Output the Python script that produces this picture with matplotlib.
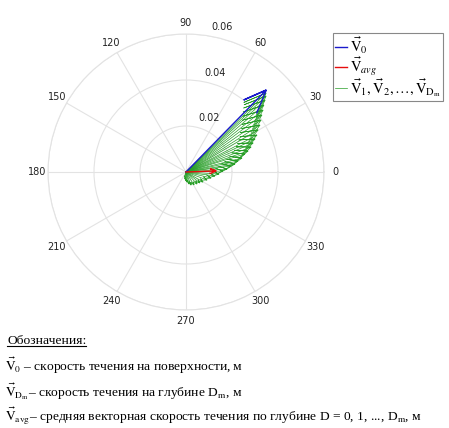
import matplotlib
matplotlib.use("Agg")
import matplotlib.pyplot as plt
from matplotlib.lines import Line2D
import numpy as np

plt.rcParams['mathtext.fontset'] = 'stix'

# surface vector, depth-averaged vector (magnitude, angle in degrees)
v0_mag, v0_ang = 0.0499, 45.6
vavg_mag, vavg_ang = 0.0131, 2.0

# vectors at depths 1..Dm
green_mag = [0.0489, 0.0480, 0.0465, 0.0447, 0.0430, 0.0413, 0.0397, 0.0381,
             0.0363, 0.0348, 0.0333, 0.0318, 0.0303, 0.0285, 0.0268, 0.0251,
             0.0231, 0.0216, 0.0197, 0.0179, 0.0161, 0.0144, 0.0127, 0.0112,
             0.0098, 0.0086, 0.0077, 0.0071, 0.0066, 0.0061, 0.0054, 0.0044,
             0.0039, 0.0031, 0.0023]
green_ang = [44.6, 43.5, 42.3, 40.7, 38.8, 36.9, 34.7, 32.4,
             30.3, 27.5, 25.6, 23.4, 21.0, 18.7, 17.0, 14.0,
             11.9, 9.3, 7.6, 4.2, 1.5, -3.5, -7.9, -13.5,
             -20.9, -30.5, -38.2, -47.5, -58.4, -69.0, -76.0, -84.3,
             -90.0, -98.1, -106.7]

r_ticks = [0.02, 0.04, 0.06]
theta_ticks = list(range(0, 360, 30))

grid_col = '#e3e3e3'
blue = (0.1, 0.1, 0.8)
red = (0.9, 0.05, 0.05)
green = (0.15, 0.62, 0.15)


def compass_arrow(ax, mag, ang, color, lw):
    # MATLAB-style compass arrow: shaft plus two barbs
    z = mag * np.exp(1j * np.deg2rad(ang))
    a = np.array([0, 1, 0.8, 1, 0.8])
    b = np.array([0, 0, 0.08, 0, -0.08])
    pts = (a + 1j * b) * z
    ax.plot(pts.real, pts.imag, color=color, lw=lw, solid_joinstyle='miter')


fig = plt.figure(figsize=(4.49, 4.28), dpi=100)
rect = [48 / 449, 1 - 310 / 428, 276 / 449, 276 / 428]

ax = fig.add_axes(rect, projection='polar')
ax.set_rlim(0, 0.06)
ax.set_rticks(r_ticks)
ax.set_yticklabels([])
ax.set_thetagrids(theta_ticks, [str(t) for t in theta_ticks], fontsize=7)
ax.tick_params(axis='x', pad=-2.5, colors='#222222')
ax.grid(True, color=grid_col, lw=0.8)
ax.spines['polar'].set_color(grid_col)
ax.spines['polar'].set_linewidth(0.8)
for r in r_ticks:
    ax.annotate(f'{r:.2f}', xy=(np.deg2rad(82), r), xytext=(12, 6),
                textcoords='offset points', fontsize=7, ha='center',
                va='center', color='#222222')

ax2 = fig.add_axes(rect)
ax2.set_xlim(-0.06, 0.06)
ax2.set_ylim(-0.06, 0.06)
ax2.set_aspect('equal')
ax2.axis('off')

for m, g in zip(green_mag, green_ang):
    compass_arrow(ax2, m, g, green, 0.5)
compass_arrow(ax2, v0_mag, v0_ang, blue, 1.0)
compass_arrow(ax2, vavg_mag, vavg_ang, red, 1.0)

handles = [Line2D([], [], color=blue, lw=1.0),
           Line2D([], [], color=red, lw=1.0),
           Line2D([], [], color=green, lw=0.5)]
labels = [r'$\vec{\mathrm{V}}_0$', r'$\vec{\mathrm{V}}_{avg}$',
          r'$\vec{\mathrm{V}}_1, \vec{\mathrm{V}}_2, \ldots, \vec{\mathrm{V}}_{\mathrm{D_m}}$']
leg = fig.legend(handles, labels, loc='upper left', bbox_to_anchor=(333 / 449, 1 - 33 / 428),
                 fontsize=10.5, handlelength=0.8, handletextpad=0.2, borderpad=0.15,
                 labelspacing=-0.1, fancybox=False, framealpha=1, borderaxespad=0)
leg.get_frame().set_edgecolor('#888888')
leg.get_frame().set_linewidth(0.8)

txt_kw = dict(fontsize=9.7, family='Liberation Serif', ha='left', va='baseline')
t0 = fig.text(7 / 449, 1 - 344 / 428, 'Обозначения:', **txt_kw)
fig.text(5 / 449, 1 - 371 / 428, r'$\vec{\mathrm{V}}_0$ – скорость течения на поверхности, м', **txt_kw)
fig.text(5 / 449, 1 - 397 / 428,
         r'$\vec{\mathrm{V}}_{\mathrm{D_m}}$– скорость течения на глубине D$_\mathrm{m}$, м', **txt_kw)
fig.text(5 / 449, 1 - 421 / 428,
         r'$\vec{\mathrm{V}}_{\mathrm{avg}}$– средняя векторная скорость течения по глубине '
         r'D = 0, 1, ..., D$_\mathrm{m}$, м', **txt_kw)

fig.canvas.draw()
bb = t0.get_window_extent().transformed(fig.transFigure.inverted())
fig.add_artist(Line2D([bb.x0, bb.x1], [bb.y0 + 0.002, bb.y0 + 0.002],
                      transform=fig.transFigure, color='black', lw=0.8))

fig.savefig('out.png', dpi=100)
